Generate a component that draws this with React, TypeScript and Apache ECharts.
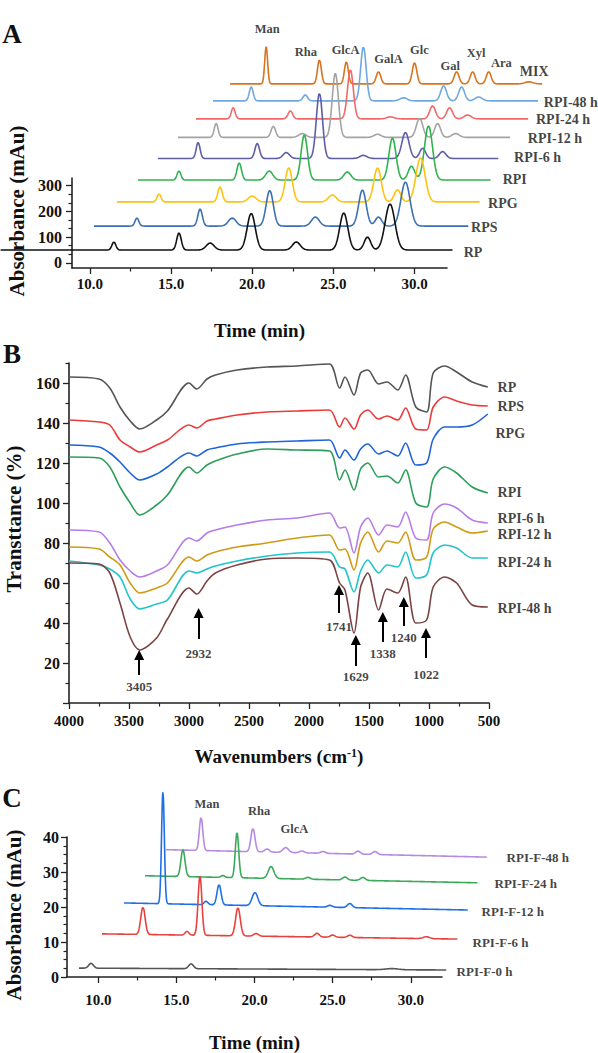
import React, { useEffect, useRef } from 'react';
import * as echarts from 'echarts';

const FONT = '"Liberation Serif", "Times New Roman", serif';

// ================= Panel A : HPLC chromatograms (stacked, offset) =================
const A_NAMES = ['RP', 'RPS', 'RPG', 'RPI', 'RPI-6 h', 'RPI-12 h', 'RPI-24 h', 'RPI-48 h', 'MIX'];
const A_BASE = [50, 143, 237, 322, 406, 488, 560, 630, 696];
const A_START = [4.5, 10.25, 11.67, 12.96, 14.2, 15.43, 16.54, 17.59, 18.64];
const A_END = [32.35, 33.33, 34.0, 34.7, 35.2, 35.9, 37.0, 37.6, 37.9];
// peaks: [retention time (min, as plotted), height (mAu), width (min)]
const A_PEAKS_RP = [[11.48, 31, 0.12], [15.49, 66, 0.14], [17.41, 27, 0.24], [19.94, 142, 0.25], [22.72, 31, 0.24], [25.64, 144, 0.25], [27.1, 50, 0.2], [28.49, 179, 0.3]];
const A_PEAKS_RPS = [[12.9, 31, 0.12], [16.79, 66, 0.14], [18.77, 31, 0.24], [21.08, 138, 0.22], [23.89, 35, 0.24], [26.79, 140, 0.23], [27.78, 35, 0.2], [29.44, 171, 0.28]];
const A_PEAKS_RPG = [[14.26, 31, 0.12], [18.02, 58, 0.14], [20.0, 23, 0.24], [22.25, 132, 0.22], [24.94, 27, 0.24], [27.72, 132, 0.23], [28.95, 47, 0.2], [30.37, 171, 0.28]];
const A_PEAKS_RPI = [[15.49, 35, 0.12], [19.2, 66, 0.14], [21.05, 35, 0.22], [23.21, 175, 0.2], [25.86, 31, 0.22], [28.64, 163, 0.22], [29.81, 54, 0.2], [30.86, 210, 0.25]];
const A_PEAKS_6H = [[16.67, 62, 0.12], [20.31, 58, 0.14], [22.1, 23, 0.2], [24.14, 253, 0.19], [26.85, 12, 0.22], [29.44, 101, 0.22], [30.5, 40, 0.18], [31.73, 27, 0.2]];
const A_PEAKS_12H = [[17.78, 54, 0.12], [21.3, 43, 0.14], [23.09, 15, 0.22], [25.12, 249, 0.19], [27.72, 12, 0.22], [30.31, 74, 0.2], [31.42, 54, 0.18], [32.53, 15, 0.22]];
const A_PEAKS_24H = [[18.83, 43, 0.12], [22.35, 31, 0.14], [26.05, 190, 0.18], [28.52, 8, 0.22], [31.11, 50, 0.18], [32.16, 43, 0.18], [33.27, 15, 0.22]];
const A_PEAKS_48H = [[19.94, 54, 0.12], [23.27, 23, 0.14], [26.85, 210, 0.17], [29.32, 12, 0.22], [31.79, 58, 0.18], [32.9, 54, 0.18], [33.95, 15, 0.22]];
const A_PEAKS_MIX = [[20.86, 144, 0.09], [24.14, 93, 0.12], [25.8, 86, 0.12], [27.78, 47, 0.14], [30.0, 82, 0.14], [32.59, 47, 0.15], [33.58, 47, 0.15], [34.57, 47, 0.15], [37.04, 8, 0.25]];
const A_PEAKS = [A_PEAKS_RP, A_PEAKS_RPS, A_PEAKS_RPG, A_PEAKS_RPI, A_PEAKS_6H, A_PEAKS_12H, A_PEAKS_24H, A_PEAKS_48H, A_PEAKS_MIX];
const A_COLORS = ['#111111', '#3b6fb2', '#ffc20e', '#2fb34e', '#5e5ea6', '#a3a3a3', '#f26868', '#6ea8de', '#d9731c'];
// trace label anchors (time, mAu)
const A_LABEL_T = [33.0, 33.45, 34.5, 35.4, 36.1, 36.95, 37.45, 37.93, 36.45];
const A_LABEL_V = [42, 136, 229, 326, 408, 482, 556, 625, 746];
// sugar standards
const A_SUGARS = ['Man', 'Rha', 'GlcA', 'GalA', 'Glc', 'Gal', 'Xyl', 'Ara'];
const A_SUGAR_T = [20.92, 23.3, 25.75, 28.4, 30.3, 32.2, 33.8, 35.35];
const A_SUGAR_V = [909, 820, 828, 793, 828, 766, 816, 777];
const A_X_MIN = 8.9;
const A_X_MAX = 32;
const A_X_MAJOR = [10, 15, 20, 25, 30];
const A_X_MINOR = [12.5, 17.5, 22.5, 27.5];
const A_Y_MAJOR = [0, 100, 200, 300];
const A_Y_MINOR = [33.3, 66.7, 133.3, 166.7, 233.3, 266.7];

// ================= Panel B : FT-IR spectra =================
const B_NAMES = ['RP', 'RPS', 'RPG', 'RPI', 'RPI-6 h', 'RPI-12 h', 'RPI-24 h', 'RPI-48 h'];
const B_WN = [4000, 3750, 3660, 3575, 3490, 3410, 3270, 3180, 3000, 2935, 2850, 2780, 2600, 2350, 2100, 1830, 1745, 1700, 1625, 1570, 1510, 1420, 1350, 1260, 1195, 1110, 1020, 965, 870, 770, 640, 510];
const B_RP = [163, 162, 157.5, 148, 141, 137, 141.5, 146, 160, 157, 162, 164, 166.5, 168, 168.5, 169.5, 157.5, 163, 154, 165, 166.5, 159.5, 160.5, 156.5, 164, 148, 145.5, 165, 168.5, 165.5, 160.5, 158];
const B_RPS = [141.5, 140.5, 139, 131.5, 128, 125.5, 129, 131.5, 139, 137.5, 141, 142, 144, 145.5, 146, 146.5, 138, 142.5, 137, 144, 146.5, 142, 143.5, 141.5, 147.5, 137, 136.5, 148, 153, 151, 149, 148.5];
const B_RPG = [129, 128, 125, 120.5, 115, 111.5, 114.5, 118, 125, 123.5, 126.5, 127.5, 129.5, 130.5, 131, 131.5, 122.5, 126.5, 121.5, 127, 129.5, 124.5, 126, 123.5, 130, 119, 120, 132, 138, 138, 139, 144.5];
const B_RPI = [123, 122.5, 118, 108, 100, 94, 99, 104, 118, 115, 119, 121, 124.5, 127, 126.5, 126, 111.5, 116.5, 106.5, 117, 120, 113, 113.5, 110, 116.5, 100, 98, 112, 118, 115, 108, 105];
const B_6H = [86.5, 85.5, 80, 71.5, 66, 63, 66, 69, 82.5, 81, 85, 86.5, 89, 91.5, 92.5, 95, 87.5, 88, 75, 88, 92.5, 84, 89, 88, 95.5, 82.5, 81.5, 95, 99.5, 97.5, 91.5, 90];
const B_12H = [78, 77, 73, 69, 60, 55, 57.5, 60, 73, 71, 74, 75.5, 78, 80, 82.5, 84, 76.5, 77, 66.5, 80, 85.5, 75.5, 81, 80, 85.5, 71.5, 73, 87, 90.5, 88, 85, 86];
const B_24H = [71, 69, 67, 63, 52, 47, 49.5, 51.5, 66, 65, 67, 68.5, 71, 73.5, 75, 75.5, 68, 67, 55.5, 66, 71.5, 65, 69, 68, 75.5, 62.5, 64, 75, 79, 77.5, 72.5, 72.5];
const B_48H = [70, 69.5, 65, 50, 33, 26.5, 32.5, 42, 57.5, 54.5, 61, 65, 69, 72, 72.5, 71.5, 60, 56.5, 35, 58, 65, 46.5, 57, 55, 63, 40, 41.5, 58, 63, 60, 49, 48];
const B_VALUES = [B_RP, B_RPS, B_RPG, B_RPI, B_6H, B_12H, B_24H, B_48H];
const B_COLORS = ['#555555', '#ec3b3b', '#1f64d8', '#2f9e5b', '#b67de8', '#d09a12', '#21c4cc', '#7b4444'];
const B_LABEL_WN = [433, 433, 450, 433, 433, 433, 433, 433];
const B_LABEL_V = [158, 148.5, 135, 105.5, 92.5, 84.5, 70.5, 47.5];
// arrows: label, position (cm-1), tail, tip, label height (%)
const B_ARROW_TEXT = ['3405', '2932', '1741', '1629', '1338', '1240', '1022'];
const B_ARROW_AT = [3415, 2920, 1750, 1610, 1385, 1210, 1025];
const B_ARROW_TAIL = [14, 32, 45, 18.5, 30.5, 38.5, 22.5];
const B_ARROW_TIP = [26.5, 47.5, 59, 34, 45.5, 53, 37.5];
const B_ARROW_LABEL_V = [8.5, 25, 38.5, 13.5, 25, 33, 14.5];
const B_X_MAJOR = [500, 1000, 1500, 2000, 2500, 3000, 3500, 4000];
const B_X_MINOR = [750, 1250, 1750, 2250, 2750, 3250, 3750];
const B_Y_MAJOR = [0, 20, 40, 60, 80, 100, 120, 140, 160];
const B_Y_MINOR = [10, 30, 50, 70, 90, 110, 130, 150, 170];
const B_Y_LABELS = [20, 40, 60, 80, 100, 120, 140, 160];

// ================= Panel C : HPLC of fermentation fractions =================
const C_NAMES = ['RPI-F-0 h', 'RPI-F-6 h', 'RPI-F-12 h', 'RPI-F-24 h', 'RPI-F-48 h'];
const C_BASE_START = [4.8, 14.0, 22.3, 29.6, 36.6];
const C_BASE_END = [4.3, 12.6, 20.4, 27.7, 34.6];
const C_START = [8.77, 10.24, 11.65, 12.99, 14.34];
const C_END = [32.3, 33.0, 33.66, 34.3, 34.9];
const C_PEAKS_0 = [[9.54, 1.3, 0.15], [15.94, 1.3, 0.15], [28.8, 0.3, 0.4]];
const C_PEAKS_6 = [[12.86, 7.3, 0.14], [15.68, 1.0, 0.12], [16.51, 15.9, 0.12], [18.94, 7.5, 0.15], [20.1, 0.7, 0.15], [24.0, 1.0, 0.15], [25.0, 0.6, 0.15], [26.1, 0.6, 0.15], [31.0, 0.5, 0.2]];
const C_PEAKS_12 = [[14.14, 30.1, 0.09], [16.9, 0.9, 0.12], [17.73, 5.4, 0.13], [20.03, 3.5, 0.18], [24.83, 0.5, 0.15], [26.1, 1.1, 0.15]];
const C_PEAKS_24 = [[15.42, 7.2, 0.13], [17.98, 0.5, 0.12], [18.88, 12.1, 0.11], [21.06, 3.2, 0.18], [23.42, 0.5, 0.15], [25.79, 0.8, 0.15], [26.94, 0.8, 0.15]];
const C_PEAKS_48 = [[16.58, 8.9, 0.11], [19.9, 6.2, 0.13], [20.8, 0.8, 0.15], [22.0, 1.3, 0.18], [23.04, 0.5, 0.15], [24.38, 0.5, 0.15], [26.62, 0.8, 0.15], [27.71, 0.8, 0.15]];
const C_PEAKS = [C_PEAKS_0, C_PEAKS_6, C_PEAKS_12, C_PEAKS_24, C_PEAKS_48];
const C_COLORS = ['#555555', '#e8423f', '#1f6fe6', '#3aa95a', '#b58ae2'];
const C_LABEL_T = [32.9, 33.92, 34.5, 35.33, 36.1];
const C_LABEL_V = [3.8, 11.8, 20.1, 27.4, 34.6];
const C_SUGARS = ['Man', 'Rha', 'GlcA'];
const C_SUGAR_T = [16.96, 20.29, 22.55];
const C_SUGAR_V = [48.9, 47.0, 42.1];
const C_X_MIN = 8;
const C_X_MAX = 32;
const C_X_MAJOR = [10, 15, 20, 25, 30];
const C_X_MINOR = [12.5, 17.5, 22.5, 27.5];
const C_Y_MAJOR = [0, 10, 20, 30, 40];
const C_Y_MINOR = [2.5, 5, 7.5, 12.5, 15, 17.5, 22.5, 25, 27.5, 32.5, 35, 37.5];

// layout (pixels)
const W = 598;
const H = 1053;
const GRID_A = { left: 72, top: 178, width: 375, height: 90 };
const GRID_B = { left: 69, top: 363, width: 420, height: 340 };
const GRID_C = { left: 67, top: 837, width: 375, height: 149 };

// chromatogram trace from a peak table (Gaussian peak shapes on a baseline)
function trace(start: number, end: number, b0: number, b1: number, peaks: number[][], step = 0.02) {
  const pts: number[][] = [];
  const n = Math.round((end - start) / step);
  for (let i = 0; i <= n; i++) {
    const t = start + i * step;
    let v = b0 + ((b1 - b0) * i) / n;
    for (const [c, h, w] of peaks) v += h * Math.exp(-0.5 * ((t - c) / w) ** 2);
    pts.push([t, v]);
  }
  return pts;
}

const AXIS_COLOR = '#222';
const TITLE_STYLE = { fontFamily: FONT, fontWeight: 'bold', fontSize: 19, color: '#111' };
function xAxisOf(grid: number, min: number, max: number, ticks: number[], labels: number[], fmt: (v: number) => string, margin: number, name: string, nameGap: number, inverse = false, rich?: any) {
  return {
    type: 'value', gridIndex: grid, position: 'bottom', min, max, inverse,
    axisLine: { show: true, onZero: false, lineStyle: { color: AXIS_COLOR, width: 1.6 } },
    axisTick: { show: true, customValues: ticks, length: 6, inside: false, lineStyle: { color: AXIS_COLOR, width: 1.3 } },
    axisLabel: { show: true, customValues: labels, formatter: fmt, margin, fontFamily: FONT, fontWeight: 'bold', fontSize: 15, color: '#111' },
    splitLine: { show: false },
    name, nameLocation: 'middle', nameGap,
    nameTextStyle: { ...TITLE_STYLE, rich },
  };
}
function yAxisOf(grid: number, min: number, max: number, ticks: number[], labels: number[], margin: number) {
  return {
    type: 'value', gridIndex: grid, position: 'left', min, max,
    axisLine: { show: true, onZero: false, lineStyle: { color: AXIS_COLOR, width: 1.6 } },
    axisTick: { show: true, customValues: ticks, length: 6, inside: false, lineStyle: { color: AXIS_COLOR, width: 1.3 } },
    axisLabel: { show: true, customValues: labels, margin, fontFamily: FONT, fontWeight: 'bold', fontSize: 16, color: '#111' },
    splitLine: { show: false },
  };
}
// overlay axis that only draws the short minor ticks
function minorAxis(grid: number, position: string, min: number, max: number, ticks: number[], inverse = false) {
  return {
    type: 'value', gridIndex: grid, position, offset: 0, min, max, inverse,
    axisLine: { show: false, onZero: false },
    axisTick: { show: true, customValues: ticks, length: 3.5, inside: false, lineStyle: { color: AXIS_COLOR, width: 1.2 } },
    axisLabel: { show: false },
    splitLine: { show: false },
  };
}
// hidden axis spanning the full page width at the same scale as a visible axis
function hiddenX(grid: number, vis: { left: number; width: number }, min: number, max: number) {
  const k = vis.width / (max - min);
  return { type: 'value', gridIndex: grid, show: false, min: min - vis.left / k, max: min + (W - vis.left) / k, splitLine: { show: false } };
}
function hiddenY(grid: number, min: number, max: number) {
  return { type: 'value', gridIndex: grid, show: false, min, max, splitLine: { show: false } };
}
function textSeries(axisIdx: number, names: string[], xs: number[], ys: number[], size: number, position: string) {
  return {
    type: 'scatter', xAxisIndex: axisIdx, yAxisIndex: axisIdx, clip: false, silent: true, z: 10,
    symbolSize: 1, itemStyle: { color: 'rgba(0,0,0,0)' },
    label: { show: true, formatter: '{b}', position, distance: 0, fontFamily: FONT, fontWeight: 'bold', fontSize: size, color: '#111' },
    data: names.map((n, i) => ({ name: n, value: [xs[i], ys[i]] })),
  };
}

function buildOption() {
  const series: any[] = [];
  // Panel A (drawn on the full-width axis 3, same scale as visible axis 0)
  for (let i = A_NAMES.length - 1; i >= 0; i--) {
    series.push({
      type: 'line', name: A_NAMES[i], xAxisIndex: 3, yAxisIndex: 3, clip: false, showSymbol: false, silent: true,
      lineStyle: { color: A_COLORS[i], width: 1.6 },
      data: trace(A_START[i], A_END[i], A_BASE[i], A_BASE[i], A_PEAKS[i]),
    });
  }
  series.push(textSeries(3, A_NAMES, A_LABEL_T, A_LABEL_V, 14, 'right'));
  series.push(textSeries(3, A_SUGARS, A_SUGAR_T, A_SUGAR_V, 12.5, 'inside'));

  // Panel B
  B_NAMES.forEach((n, i) => {
    const s: any = {
      type: 'line', name: n, xAxisIndex: 1, yAxisIndex: 1, clip: false, showSymbol: false, silent: true, smooth: 0.3,
      lineStyle: { color: B_COLORS[i], width: 1.6 },
      data: B_WN.map((w, k) => [w, B_VALUES[i][k]]),
    };
    if (i === B_NAMES.length - 1) {
      s.markLine = {
        silent: true, animation: false, symbol: ['none', 'triangle'], symbolSize: 10,
        lineStyle: { color: '#000', width: 2, type: 'solid' }, label: { show: false },
        data: B_ARROW_AT.map((w, k) => [{ coord: [w, B_ARROW_TAIL[k]] }, { coord: [w, B_ARROW_TIP[k] - 2.5] }]),
      };
    }
    series.push(s);
  });
  series.push(textSeries(1, B_NAMES, B_LABEL_WN, B_LABEL_V, 14, 'right'));
  series.push(textSeries(1, B_ARROW_TEXT, B_ARROW_AT, B_ARROW_LABEL_V, 13, 'inside'));

  // Panel C (drawn on the full-width axis 4, same scale as visible axis 2)
  for (let i = C_NAMES.length - 1; i >= 0; i--) {
    series.push({
      type: 'line', name: C_NAMES[i], xAxisIndex: 4, yAxisIndex: 4, clip: false, showSymbol: false, silent: true,
      lineStyle: { color: C_COLORS[i], width: 1.6 },
      data: trace(C_START[i], C_END[i], C_BASE_START[i], C_BASE_END[i], C_PEAKS[i]),
    });
  }
  series.push(textSeries(4, C_NAMES, C_LABEL_T, C_LABEL_V, 13, 'right'));
  series.push(textSeries(4, C_SUGARS, C_SUGAR_T, C_SUGAR_V, 12.5, 'inside'));

  const fmt1 = (v: number) => v.toFixed(1);
  const fmt0 = (v: number) => String(v);
  const panelText = (t: string, x: number, y: number) => ({
    type: 'text', x, y, silent: true,
    style: { text: t, font: `bold 27px ${FONT}`, fill: '#111', textAlign: 'center', textVerticalAlign: 'middle', align: 'center', verticalAlign: 'middle' },
  });
  const yTitle = (t: string, x: number, y: number) => ({
    type: 'text', x, y, rotation: Math.PI / 2, silent: true,
    style: { text: t, font: `bold 21px ${FONT}`, fill: '#111', textAlign: 'center', textVerticalAlign: 'middle', align: 'center', verticalAlign: 'middle' },
  });

  return {
    animation: false,
    backgroundColor: '#ffffff',
    grid: [
      GRID_A,
      GRID_B,
      GRID_C,
      { left: 0, top: GRID_A.top, width: W, height: GRID_A.height },
      { left: 0, top: GRID_C.top, width: W, height: GRID_C.height },
    ],
    xAxis: [
      xAxisOf(0, A_X_MIN, A_X_MAX, A_X_MAJOR, A_X_MAJOR, fmt1, 8, 'Time (min)', 53),
      xAxisOf(1, 500, 4000, B_X_MAJOR, B_X_MAJOR, fmt0, 10, 'Wavenumbers (cm{sup|-1})', 44, true, {
        sup: { fontFamily: FONT, fontWeight: 'bold', fontSize: 12, color: '#111', verticalAlign: 'top' },
      }),
      xAxisOf(2, C_X_MIN, C_X_MAX, C_X_MAJOR, C_X_MAJOR, fmt1, 15, 'Time (min)', 56),
      hiddenX(3, GRID_A, A_X_MIN, A_X_MAX),
      hiddenX(4, GRID_C, C_X_MIN, C_X_MAX),
      minorAxis(0, 'bottom', A_X_MIN, A_X_MAX, A_X_MINOR),
      minorAxis(1, 'bottom', 500, 4000, B_X_MINOR, true),
      minorAxis(2, 'bottom', C_X_MIN, C_X_MAX, C_X_MINOR),
    ],
    yAxis: [
      yAxisOf(0, -20, 330, A_Y_MAJOR, A_Y_MAJOR, 10),
      yAxisOf(1, 0, 170, B_Y_MAJOR, B_Y_LABELS, 9),
      yAxisOf(2, 0, 40, C_Y_MAJOR, C_Y_MAJOR, 8),
      hiddenY(3, -20, 330),
      hiddenY(4, 0, 40),
      minorAxis(0, 'left', -20, 330, A_Y_MINOR),
      minorAxis(1, 'left', 0, 170, B_Y_MINOR),
      minorAxis(2, 'left', 0, 40, C_Y_MINOR),
    ],
    graphic: [
      panelText('A', 12, 34),
      panelText('B', 12, 354),
      panelText('C', 12, 798),
      yTitle('Absorbance (mAu)', 17, 211),
      yTitle('Transttance (%)', 14, 519),
      yTitle('Absorbance (mAu)', 14, 915),
    ],
    series,
  };
}

export default function App() {
  const ref = useRef<HTMLDivElement>(null);
  useEffect(() => {
    if (!ref.current) return;
    const chart = echarts.init(ref.current, null, { renderer: 'svg' });
    chart.setOption(buildOption() as any);
    return () => chart.dispose();
  }, []);
  return <div ref={ref} style={{ position: 'fixed', left: 0, top: 0, width: W, height: H, background: '#fff' }} />;
}
